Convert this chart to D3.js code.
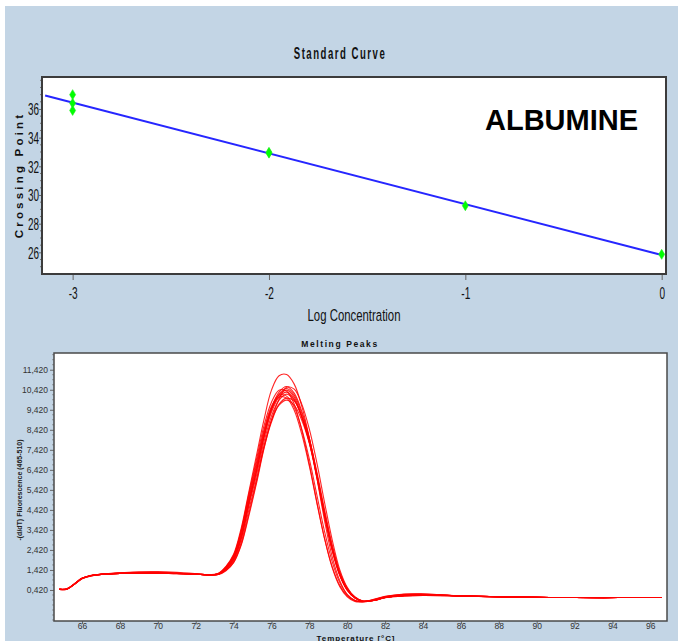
<!DOCTYPE html>
<html>
<head>
<meta charset="utf-8">
<script src="https://cdn.jsdelivr.net/npm/d3@7"></script>
<style>
  html, body { margin: 0; padding: 0; background: #ffffff; }
  svg { display: block; }
</style>
</head>
<body>
<svg id="chart" width="678" height="641"></svg>
<script>
// ---------- Standard curve data ----------
const stdLogConc = [-3, -3, -3, -2, -2, -1, 0];
const stdCrossing = [37.0, 36.4, 35.9, 32.98, 32.92, 29.25, 25.86];
const stdFitExtent = [-3.14, 0];
const stdXTicks = [-3, -2, -1, 0];
const stdYTicks = [26, 28, 30, 32, 34, 36];
const stdLabel = "ALBUMINE";

// ---------- Melting peak data ----------
const meltTemp = [64.8, 65.2, 65.6, 66.0, 66.5, 67.0, 68.0, 69.0, 70.0, 71.0, 72.0, 72.6, 73.2, 73.6, 74.0,
  74.4, 74.8, 75.2, 75.6, 76.0, 76.4, 76.8, 77.2, 77.6, 78.0, 78.4, 78.8, 79.2, 79.6, 80.0, 80.4, 80.8,
  81.4, 82.0, 83.0, 84.0, 86.0, 88.0, 90.0, 92.0, 94.3, 96.6];
const meltA = [0.45,0.47,0.72,1.00,1.14,1.20,1.25,1.27,1.27,1.24,1.22,1.18,1.22,1.50,2.00,3.10,4.80,6.30,8.00,9.30,10.05,10.30,9.95,9.05,7.75,6.00,4.10,2.40,1.15,0.40,0.02,-0.15,-0.10,0.05,0.15,0.18,0.13,0.08,0.05,0.04,0.04,0.04];
const meltB = [0.44,0.46,0.70,0.98,1.13,1.19,1.26,1.30,1.30,1.26,1.21,1.17,1.25,1.60,2.20,3.50,5.30,7.10,8.90,10.40,11.12,11.18,10.70,9.60,8.00,6.00,3.90,2.10,0.90,0.20,-0.10,-0.18,-0.08,0.08,0.18,0.20,0.12,0.07,0.05,0.04,0.04,0.04];
const meltC = [0.46,0.48,0.73,1.01,1.15,1.21,1.26,1.28,1.28,1.25,1.22,1.18,1.21,1.48,1.95,3.00,4.70,6.30,8.10,9.50,10.30,10.58,10.25,9.35,8.00,6.20,4.25,2.50,1.20,0.42,0.03,-0.14,-0.10,0.04,0.14,0.17,0.13,0.08,0.05,0.04,0.04,0.04];
const meltD = [0.45,0.47,0.71,0.99,1.14,1.20,1.25,1.27,1.27,1.24,1.21,1.17,1.24,1.58,2.15,3.40,5.20,6.90,8.60,9.80,10.40,10.35,9.70,8.40,6.70,4.80,3.00,1.55,0.60,0.08,-0.15,-0.17,-0.05,0.10,0.22,0.22,0.12,0.07,0.05,0.04,0.04];
const meltE = [0.45,0.46,0.71,0.99,1.13,1.19,1.24,1.26,1.26,1.23,1.21,1.17,1.20,1.45,1.90,2.95,4.60,6.10,7.80,9.10,9.90,10.20,9.90,9.05,7.80,6.10,4.20,2.50,1.22,0.45,0.05,-0.13,-0.10,0.04,0.13,0.16,0.13,0.08,0.05,0.04,0.04,0.04];
const meltF = [0.46,0.47,0.72,1.00,1.14,1.20,1.24,1.26,1.26,1.24,1.22,1.19,1.20,1.40,1.80,2.70,4.20,5.80,7.50,8.80,9.70,10.00,9.85,9.10,7.95,6.30,4.45,2.70,1.35,0.52,0.08,-0.12,-0.11,0.03,0.12,0.15,0.12,0.08,0.05,0.04,0.04,0.04];
const meltG = [0.44,0.46,0.70,0.98,1.12,1.19,1.25,1.28,1.29,1.26,1.22,1.18,1.23,1.52,2.05,3.20,4.90,6.50,8.20,9.45,10.15,10.40,10.05,9.10,7.80,6.05,4.15,2.45,1.18,0.42,0.03,-0.14,-0.10,0.05,0.15,0.18,0.13,0.08,0.05,0.04,0.04];
const meltH = [0.45,0.47,0.72,1.00,1.14,1.20,1.25,1.27,1.27,1.24,1.21,1.17,1.23,1.55,2.10,3.30,5.00,6.60,8.30,9.50,10.05,10.00,9.40,8.20,6.60,4.75,3.00,1.60,0.65,0.12,-0.12,-0.16,-0.06,0.09,0.20,0.21,0.12,0.07,0.05,0.04,0.04,0.04];
const meltI = [0.46,0.48,0.73,1.01,1.15,1.21,1.26,1.28,1.28,1.25,1.22,1.18,1.20,1.42,1.85,2.80,4.40,5.90,7.60,8.90,9.65,9.90,9.65,8.90,7.75,6.15,4.30,2.60,1.28,0.48,0.06,-0.13,-0.10,0.04,0.13,0.16,0.12,0.08,0.05,0.04,0.04,0.04];
const meltJ = [0.45,0.47,0.71,0.99,1.14,1.20,1.25,1.27,1.27,1.24,1.22,1.18,1.21,1.47,1.97,3.05,4.75,6.35,8.05,9.40,10.20,10.48,10.15,9.25,7.95,6.15,4.20,2.48,1.20,0.42,0.03,-0.14,-0.10,0.05,0.14,0.17,0.13,0.08,0.05,0.04,0.04,0.04];
const meltK = [0.45,0.47,0.72,1.00,1.14,1.20,1.27,1.33,1.34,1.30,1.23,1.18,1.19,1.38,1.78,2.65,4.10,5.70,7.45,8.90,9.95,10.55,10.45,9.70,8.45,6.75,4.80,2.95,1.45,0.55,0.06,-0.14,-0.11,0.03,0.12,0.15,0.12,0.08,0.05,0.04,0.04,0.04];
const meltL = [0.45,0.47,0.71,0.99,1.13,1.19,1.24,1.26,1.26,1.23,1.21,1.17,1.24,1.56,2.12,3.35,5.10,6.75,8.40,9.60,10.15,10.10,9.55,8.45,6.95,5.15,3.35,1.85,0.80,0.18,-0.10,-0.17,-0.07,0.08,0.19,0.20,0.12,0.08,0.05,0.04];
const meltSeries = [meltA, meltB, meltC, meltD, meltE, meltF, meltG, meltH, meltI, meltJ, meltK, meltL];
const meltXTicks = [66, 68, 70, 72, 74, 76, 78, 80, 82, 84, 86, 88, 90, 92, 94, 96];
const meltYTicks = [0.42, 1.42, 2.42, 3.42, 4.42, 5.42, 6.42, 7.42, 8.42, 9.42, 10.42, 11.42];

const svg = d3.select("#chart");
const sans = "'Liberation Sans', Arial, sans-serif";

// panel background
svg.append("rect").attr("x", 5).attr("y", 6).attr("width", 673).attr("height", 635).attr("fill", "#c3d5e5");

// =============== Standard Curve ===============
const stdBox = { l: 42, r: 666, t: 77, b: 274 };
const xS = d3.scaleLinear().domain([-3.156, 0.022]).range([stdBox.l, stdBox.r]);
const yS = d3.scaleLinear().domain([24.49, 38.23]).range([stdBox.b, stdBox.t]);

svg.append("rect").attr("x", stdBox.l).attr("y", stdBox.t)
  .attr("width", stdBox.r - stdBox.l).attr("height", stdBox.b - stdBox.t).attr("fill", "#ffffff");

// condensed title
svg.append("text").attr("transform", "translate(340,59) scale(0.6,1)")
  .attr("text-anchor", "middle").attr("font-family", sans).attr("font-weight", "bold")
  .attr("font-size", 16).attr("letter-spacing", 2.5).attr("fill", "#111")
  .text("Standard Curve");

// y axis (condensed labels)
const yAxS = svg.append("g").attr("transform", `translate(${stdBox.l},0)`)
  .call(d3.axisLeft(yS).tickValues(stdYTicks).tickSize(3).tickPadding(2));
yAxS.select(".domain").remove();
yAxS.selectAll(".tick line").attr("stroke", "#666");
yAxS.selectAll(".tick text").attr("font-family", sans).attr("font-size", 16).attr("fill", "#111")
  .attr("transform", "scale(0.62,1)").attr("x", -3 / 0.62).attr("dy", "0.36em");
// minor ticks
const yMinorS = d3.range(25, 38.01, 0.5).filter(v => !stdYTicks.includes(v));
svg.append("g").selectAll("line").data(yMinorS).join("line")
  .attr("x1", stdBox.l - 2).attr("x2", stdBox.l).attr("y1", d => yS(d)).attr("y2", d => yS(d))
  .attr("stroke", "#777").attr("stroke-width", 1);

// x axis
const xAxS = svg.append("g").attr("transform", `translate(0,${stdBox.b})`)
  .call(d3.axisBottom(xS).tickValues(stdXTicks).tickSize(6).tickFormat(d3.format("d")));
xAxS.select(".domain").remove();
xAxS.selectAll(".tick line").attr("stroke", "#666");
xAxS.selectAll(".tick text").attr("font-family", sans).attr("font-size", 16).attr("fill", "#111")
  .attr("transform", "scale(0.63,1)").attr("y", 25).attr("dy", 0)
  .text(d => d < 0 ? "-" + Math.abs(d) : d);

svg.append("text").attr("transform", "translate(354,321) scale(0.69,1)")
  .attr("text-anchor", "middle").attr("font-family", sans).attr("font-size", 16.5).attr("fill", "#111")
  .text("Log Concentration");

svg.append("text").attr("transform", "translate(23,175) rotate(-90)")
  .attr("text-anchor", "middle").attr("font-family", sans).attr("font-weight", "bold")
  .attr("font-size", 11.5).attr("letter-spacing", 3.2).attr("fill", "#111")
  .text("Crossing Point");

// regression line through the standards
const mx = d3.mean(stdLogConc), my = d3.mean(stdCrossing);
const slope = d3.sum(stdLogConc, (x, i) => (x - mx) * (stdCrossing[i] - my)) / d3.sum(stdLogConc, x => (x - mx) ** 2);
const fitY = x => my + slope * (x - mx);
svg.append("line")
  .attr("x1", xS(stdFitExtent[0])).attr("y1", yS(fitY(stdFitExtent[0])))
  .attr("x2", xS(stdFitExtent[1])).attr("y2", yS(fitY(stdFitExtent[1])))
  .attr("stroke", "#2626ff").attr("stroke-width", 2);

// standards
svg.append("g").selectAll("path").data(stdLogConc).join("path")
  .attr("transform", (d, i) => `translate(${xS(d)},${yS(stdCrossing[i])})`)
  .attr("d", "M0,-5L3,0L0,5L-3,0Z")
  .attr("fill", "#00ff00").attr("stroke", "#22ee22").attr("stroke-width", 0.6);

svg.append("text").attr("x", 485).attr("y", 130).attr("font-family", sans)
  .attr("font-weight", "bold").attr("font-size", 29).attr("fill", "#000").text(stdLabel);

// frame
svg.append("rect").attr("x", stdBox.l).attr("y", stdBox.t)
  .attr("width", stdBox.r - stdBox.l).attr("height", stdBox.b - stdBox.t)
  .attr("fill", "none").attr("stroke", "#3c3c3c").attr("stroke-width", 2);

// =============== Melting Peaks ===============
const meltBox = { l: 54, r: 667, t: 353, b: 621 };
const xM = d3.scaleLinear().domain([64.52, 96.88]).range([meltBox.l, meltBox.r]);
const yM = d3.scaleLinear().domain([-1.13, 12.255]).range([meltBox.b, meltBox.t]);

svg.append("rect").attr("x", meltBox.l).attr("y", meltBox.t)
  .attr("width", meltBox.r - meltBox.l).attr("height", meltBox.b - meltBox.t).attr("fill", "#ffffff");

svg.append("text").attr("x", 340).attr("y", 347).attr("text-anchor", "middle")
  .attr("font-family", sans).attr("font-weight", "bold")
  .attr("font-size", 8.5).attr("letter-spacing", 1.6).attr("fill", "#111").text("Melting Peaks");

const commaFmt = d3.formatLocale({ decimal: ",", thousands: ".", grouping: [3], currency: ["", ""] }).format(".3f");
const yAxM = svg.append("g").attr("transform", `translate(${meltBox.l},0)`)
  .call(d3.axisLeft(yM).tickValues(meltYTicks).tickSize(4).tickPadding(2).tickFormat(commaFmt));
yAxM.select(".domain").remove();
yAxM.selectAll(".tick line").attr("stroke", "#666");
yAxM.selectAll(".tick text").attr("font-family", sans).attr("font-size", 8.5).attr("fill", "#333");
const yMinorM = d3.range(-1.08, 12.2, 0.25).filter(v => !meltYTicks.some(t => Math.abs(t - v) < 1e-6));
svg.append("g").selectAll("line").data(yMinorM).join("line")
  .attr("x1", meltBox.l - 2).attr("x2", meltBox.l).attr("y1", d => yM(d)).attr("y2", d => yM(d))
  .attr("stroke", "#888").attr("stroke-width", 0.8);

const xAxM = svg.append("g").attr("transform", `translate(0,${meltBox.b})`)
  .call(d3.axisBottom(xM).tickValues(meltXTicks).tickSize(3).tickPadding(0));
xAxM.select(".domain").remove();
xAxM.selectAll(".tick line").attr("stroke", "#666");
xAxM.selectAll(".tick text").attr("font-family", sans).attr("font-size", 8.5).attr("fill", "#333")
  .attr("dy", "0.6em");

svg.append("text").attr("x", 356).attr("y", 640.5).attr("text-anchor", "middle")
  .attr("font-family", sans).attr("font-weight", "bold")
  .attr("font-size", 8).attr("letter-spacing", 0.9).attr("fill", "#111").text("Temperature [°C]");

svg.append("text").attr("transform", "translate(22,490) rotate(-90)").attr("text-anchor", "middle")
  .attr("font-family", sans).attr("font-weight", "bold")
  .attr("font-size", 7).attr("fill", "#222").text("-(d/dT) Fluorescence (465-510)");

svg.append("clipPath").attr("id", "meltClip").append("rect")
  .attr("x", meltBox.l).attr("y", meltBox.t).attr("width", meltBox.r - meltBox.l).attr("height", meltBox.b - meltBox.t);

const meltLine = d3.line().x((d, i) => xM(meltTemp[i])).y(d => yM(d)).curve(d3.curveCatmullRom.alpha(0.5));
svg.append("g").attr("clip-path", "url(#meltClip)").selectAll("path").data(meltSeries).join("path")
  .attr("d", meltLine).attr("fill", "none").attr("stroke", "#ff0000")
  .attr("stroke-width", 1.1).attr("stroke-opacity", 0.85);

svg.append("rect").attr("x", meltBox.l).attr("y", meltBox.t)
  .attr("width", meltBox.r - meltBox.l).attr("height", meltBox.b - meltBox.t)
  .attr("fill", "none").attr("stroke", "#4a4a4a").attr("stroke-width", 1.5);
</script>
</body>
</html>
